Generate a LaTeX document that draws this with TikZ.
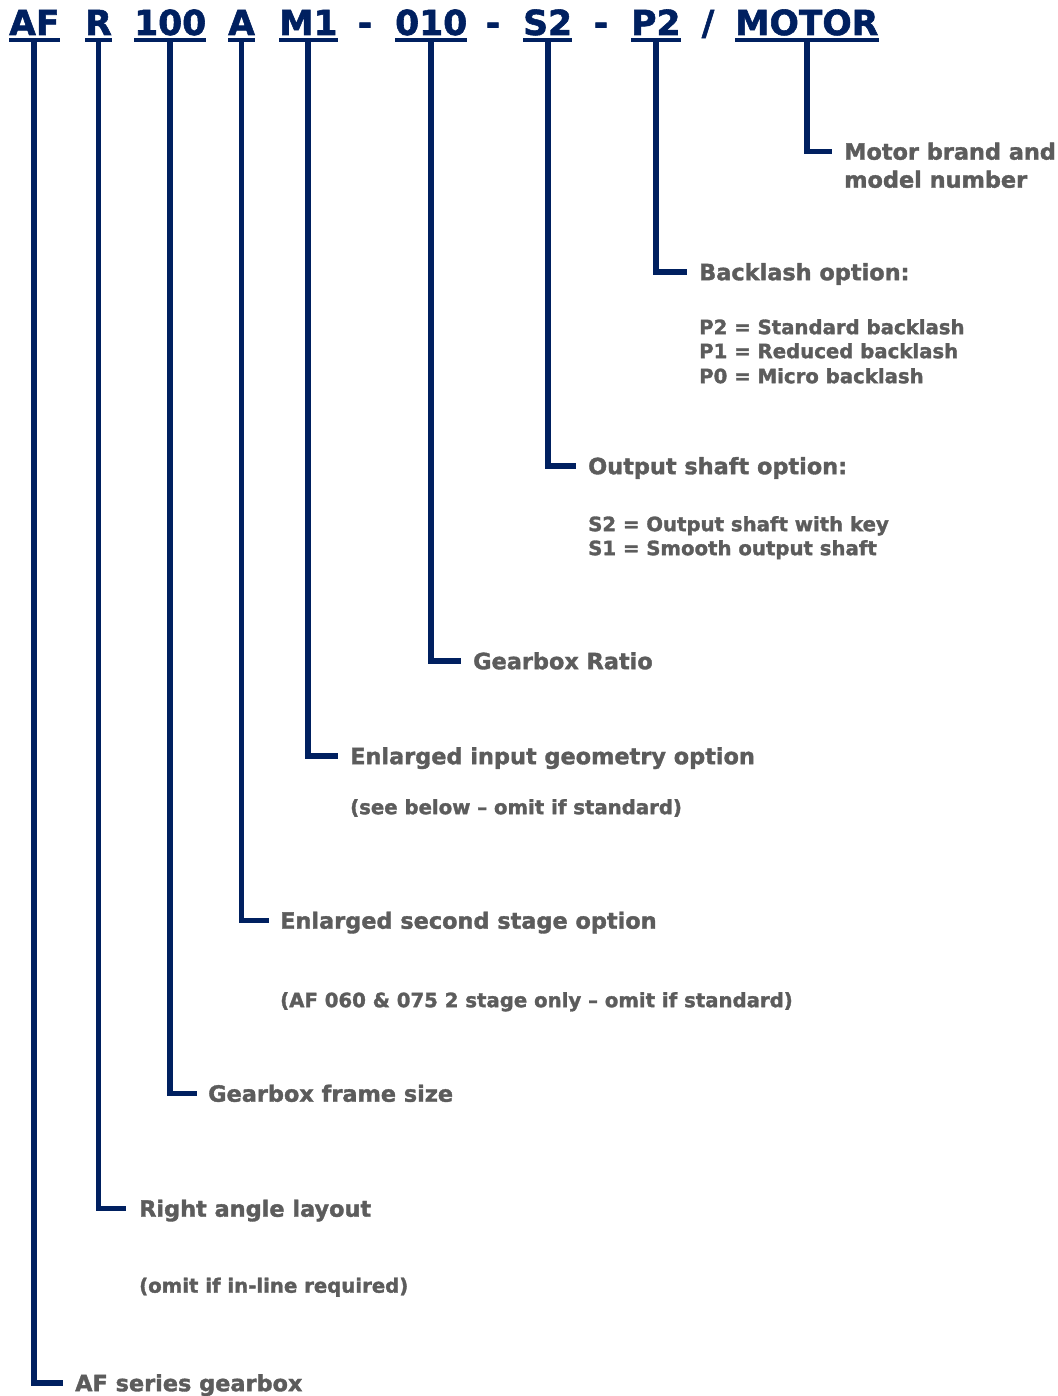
\documentclass[tikz,border=0pt]{standalone}
\usepackage{fontspec}
\setmainfont{DejaVu Sans}[BoldFeatures={FakeBold=1.6}]
\definecolor{navy}{RGB}{0,32,96}
\definecolor{txtgray}{RGB}{92,92,92}
\begin{document}
\begin{tikzpicture}[x=1pt,y=-1pt,
  code/.style={inner sep=0pt, anchor=base west, text=navy, font=\fontsize{34.5}{36}\selectfont\bfseries},
  sepchar/.style={inner sep=0pt, anchor=base, text=navy, font=\fontsize{34.5}{36}\selectfont\bfseries},
  lbl/.style={inner sep=0pt, anchor=west, text=txtgray, text height=16.4pt, text depth=0pt, font=\fontsize{22.4}{26}\selectfont\bfseries},
  sublbl/.style={inner sep=0pt, anchor=west, text=txtgray, text height=14.3pt, text depth=0pt, font=\fontsize{19.7}{23}\selectfont\bfseries},
  uline/.style={draw=navy, line width=3.6pt},
  stem/.style={draw=navy, line width=5.8pt, line join=miter}]
\useasboundingbox (0,0) rectangle (1057,1396);

% header codes
\node[code] (cAF) at (9,35) {AF};
\node[code] (cR) at (85,35) {R};
\node[code] (c100) at (134,35) {100};
\node[code] (cA) at (228,35) {A};
\node[code] (cM) at (279,35) {M1};
\node[sepchar] (d1) at (365,35) {-};
\node[code] (c010) at (395,35) {010};
\node[sepchar] (d2) at (493,35) {-};
\node[code] (cS) at (523,35) {S2};
\node[sepchar] (d3) at (601,35) {-};
\node[code] (cP) at (631,35) {P2};
\node[sepchar] (sl) at (708,35) {/};
\node[code] (cMOT) at (735,35) {MOTOR};

% underlines
\foreach \n in {cAF,cR,c100,cA,cM,c010,cS,cP,cMOT}{
  \draw[uline] ([yshift=-5pt]\n.base west) -- ([yshift=-5pt]\n.base east);
}

% labels
\node[lbl] (lMOT) at (844,151.5) {Motor brand and};
\node[lbl] (lMOT2) at (844,179.5) {model number};
\node[lbl] (lP) at (699,272) {Backlash option:};
\node[sublbl] (sP1) at (699,327) {P2 = Standard backlash};
\node[sublbl] (sP2) at (699,351) {P1 = Reduced backlash};
\node[sublbl] (sP3) at (699,376) {P0 = Micro backlash};
\node[lbl] (lS) at (588,466) {Output shaft option:};
\node[sublbl] (sS1) at (588,524) {S2 = Output shaft with key};
\node[sublbl] (sS2) at (588,548) {S1 = Smooth output shaft};
\node[lbl] (l010) at (473,661) {Gearbox Ratio};
\node[lbl] (lM) at (350,756) {Enlarged input geometry option};
\node[sublbl] (sM) at (350,807) {(see below -- omit if standard)};
\node[lbl] (lA) at (280,920.5) {Enlarged second stage option};
\node[sublbl] (sA) at (280,1000) {(AF 060 \& 075 2 stage only -- omit if standard)};
\node[lbl] (l100) at (208,1093.5) {Gearbox frame size};
\node[lbl] (lR) at (139,1208.5) {Right angle layout};
\node[sublbl] (sR) at (139,1285.5) {(omit if in-line required)};
\node[lbl] (lAF) at (75,1383) {AF series gearbox};

% connectors
\draw[stem] ([yshift=-5pt]cMOT.south) |- ([xshift=-12pt]lMOT.west);
\draw[stem] ([yshift=-5pt]cP.south) |- ([xshift=-12pt]lP.west);
\draw[stem] ([yshift=-5pt]cS.south) |- ([xshift=-12pt]lS.west);
\draw[stem] ([yshift=-5pt]c010.south) |- ([xshift=-12pt]l010.west);
\draw[stem] ([yshift=-5pt]cM.south) |- ([xshift=-12pt]lM.west);
\draw[stem] ([yshift=-5pt]cA.south) |- ([xshift=-11pt]lA.west);
\draw[stem] ([yshift=-5pt]c100.south) |- ([xshift=-11pt]l100.west);
\draw[stem] ([yshift=-5pt]cR.south) |- ([xshift=-13pt]lR.west);
\draw[stem] ([yshift=-5pt]cAF.south) |- ([xshift=-12pt]lAF.west);
\end{tikzpicture}
\end{document}
